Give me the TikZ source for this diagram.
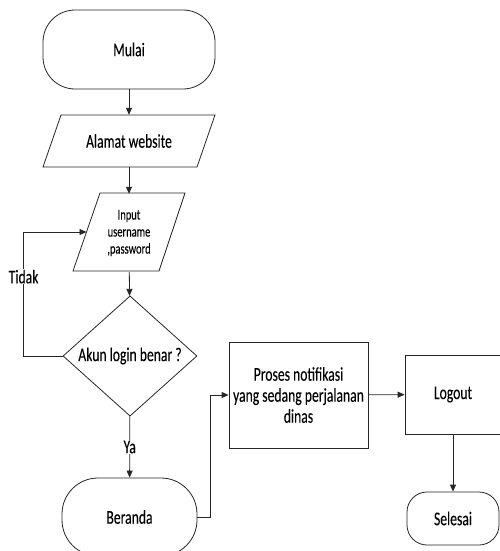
\documentclass[tikz,border=0pt]{standalone}
\usepackage{fontspec}
\setmainfont{Carlito}[FakeStretch=0.7,FakeBold=0.12]
\usetikzlibrary{shapes.geometric,arrows.meta}
\begin{document}
\begin{tikzpicture}[x=1pt,y=-1pt,
  line/.style={draw=black!85,line width=0.8pt},
  arr/.style={line,-{Triangle[width=6pt,length=7pt]}},
  base/.style={line,inner sep=0pt,font=\fontsize{19.5}{21}\selectfont,align=center},
  term/.style={base,rectangle,rounded corners=#1},
  proc/.style={base,rectangle},
  iotext/.style={inner sep=0pt,font=\fontsize{19.5}{21}\selectfont,align=center,rectangle},
  dec/.style={base,diamond},
  lbl/.style={fill=white,inner sep=1pt,font=\fontsize{19.5}{21}\selectfont}]
\useasboundingbox (0,0) rectangle (499,551);
\node[term=32pt,minimum width=172pt,minimum height=79pt] (mulai) at (129,49.5) {Mulai};
% Alamat website parallelogram
\draw[line] (61,115) -- (215,115) -- (197,167) -- (43,167) -- cycle;
\node[iotext,minimum width=130pt,minimum height=52pt] (alamat) at (129,141) {Alamat website};
% Input parallelogram
\draw[line] (100,193) -- (185,193) -- (159,271) -- (73,271) -- cycle;
\node[iotext,minimum width=80pt,minimum height=78pt,font=\fontsize{15}{17}\selectfont] (input) at (129,233) {Input\\username\\,password};
\coordinate (inputL) at (86.5,232);
\node[dec,minimum width=134pt,minimum height=108pt] (dec) at (130,356) {Akun login benar ?};
\node[term=36pt,minimum width=135pt,minimum height=78pt] (beranda) at (129.5,517) {Beranda};
\node[proc,minimum width=139pt,minimum height=106pt] (proses) at (298.5,395) {Proses notifikasi\\yang sedang perjalanan\\dinas};
\node[proc,minimum width=96pt,minimum height=79pt] (logout) at (453,394.5) {Logout};
\node[term=20pt,minimum width=92pt,minimum height=53pt] (selesai) at (453,518.5) {Selesai};
\draw[arr] (mulai) -- (alamat);
\draw[arr] (alamat) -- (input);
\draw[arr] (input) -- (dec);
\draw[arr] (dec.west) -- ++(-39,0) |- (inputL) node[lbl,pos=0.32]{Tidak};
\draw[arr] (dec) -- (beranda) node[lbl,pos=0.5]{Ya};
\draw[arr] (beranda.east) -- ++(13,0) |- (proses.west);
\draw[arr] (proses) -- (logout);
\draw[arr] (logout) -- (selesai);
\end{tikzpicture}
\end{document}
